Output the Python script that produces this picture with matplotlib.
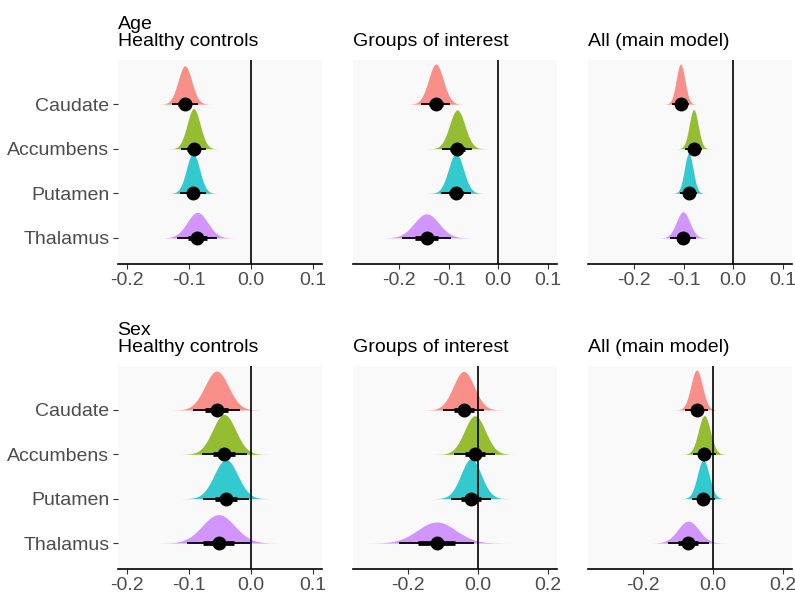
import numpy as np
import matplotlib.pyplot as plt

plt.rcParams['font.family'] = ['Liberation Sans', 'DejaVu Sans']
plt.rcParams['axes.unicode_minus'] = False

regions = ['Caudate', 'Accumbens', 'Putamen', 'Thalamus']
colors = ['#F8766D', '#7CAE00', '#00BFC4', '#C77CFF']

# posterior medians / sds per region (Caudate, Accumbens, Putamen, Thalamus)
age_hc_med = [-0.106, -0.092, -0.093, -0.086]
age_hc_sd = [0.011, 0.0105, 0.0105, 0.0165]
age_goi_med = [-0.126, -0.083, -0.0855, -0.145]
age_goi_sd = [0.015, 0.0155, 0.015, 0.025]
age_all_med = [-0.1065, -0.080, -0.090, -0.1015]
age_all_sd = [0.0088, 0.009, 0.0088, 0.0135]

sex_hc_med = [-0.055, -0.043, -0.040, -0.052]
sex_hc_sd = [0.019, 0.0185, 0.0188, 0.026]
sex_goi_med = [-0.040, -0.008, -0.019, -0.1175]
sex_goi_sd = [0.030, 0.030, 0.029, 0.055]
sex_all_med = [-0.046, -0.024, -0.027, -0.070]
sex_all_sd = [0.0165, 0.017, 0.017, 0.030]

titles = [['Age\nHealthy controls', 'Groups of interest', 'All (main model)'],
          ['Sex\nHealthy controls', 'Groups of interest', 'All (main model)']]
meds = [[age_hc_med, age_goi_med, age_all_med],
        [sex_hc_med, sex_goi_med, sex_all_med]]
sds = [[age_hc_sd, age_goi_sd, age_all_sd],
       [sex_hc_sd, sex_goi_sd, sex_all_sd]]
xlims = [[(-0.2145, 0.1145), (-0.2935, 0.1186), (-0.2935, 0.1186)],
         [(-0.2145, 0.1145), (-0.357, 0.227), (-0.357, 0.227)]]
xticks = [[[-0.2, -0.1, 0.0, 0.1]] * 3,
          [[-0.2, -0.1, 0.0, 0.1], [-0.2, 0.0, 0.2], [-0.2, 0.0, 0.2]]]

W, H = 795, 593
cols = [(117.5, 322), (353, 557), (588, 792)]
rows = [(60, 264), (366, 569)]
ypos = [4, 3, 2, 1]

fig = plt.figure(figsize=(W / 100, H / 100), dpi=100)

for r, (y0, y1) in enumerate(rows):
    for c, (x0, x1) in enumerate(cols):
        ax = fig.add_axes([x0 / W, 1 - y1 / H, (x1 - x0) / W, (y1 - y0) / H])
        ax.set_facecolor('#F9F9F9')
        med = meds[r][c]
        sd = sds[r][c]
        smin = min(sd)
        for i in range(4):
            m, s, y = med[i], sd[i], ypos[i]
            x = np.linspace(m - 3.9 * s, m + 3.9 * s, 400)
            d = np.exp(-0.5 * ((x - m) / s) ** 2) * 0.9 * smin / s
            ax.fill_between(x, y, y + d, color=colors[i], alpha=0.8, lw=0, zorder=2)
            ax.plot([m - 1.96 * s, m + 1.96 * s], [y, y], color='black',
                    lw=1.3, solid_capstyle='butt', zorder=4)
            ax.plot([m - 0.954 * s, m + 0.954 * s], [y, y], color='black',
                    lw=3.4, solid_capstyle='butt', zorder=4)
            ax.plot(m, y, 'o', ms=9, color='black', zorder=5)
        ax.axvline(0, color='black', lw=1.2, zorder=3)

        ax.set_xlim(*xlims[r][c])
        ax.set_ylim(0.415, 4.99)
        ax.set_xticks(xticks[r][c])
        ax.set_xticklabels([f'{v:.1f}' for v in xticks[r][c]])
        ax.set_yticks(ypos)
        ax.set_yticklabels(regions)
        for side in ['top', 'right', 'left']:
            ax.spines[side].set_visible(False)
        ax.spines['bottom'].set_linewidth(1.2)
        ax.spines['bottom'].set_color('black')
        ax.tick_params(axis='both', labelsize=14, labelcolor='#4D4D4D',
                       color='#333333', length=3.3, width=0.8, pad=2.5)
        if c > 0:
            ax.tick_params(axis='y', left=False, labelleft=False)
        ax.set_title(titles[r][c], loc='left', fontsize=14, pad=10,
                     linespacing=1.0, color='black')

plt.savefig('out.png', dpi=100)
